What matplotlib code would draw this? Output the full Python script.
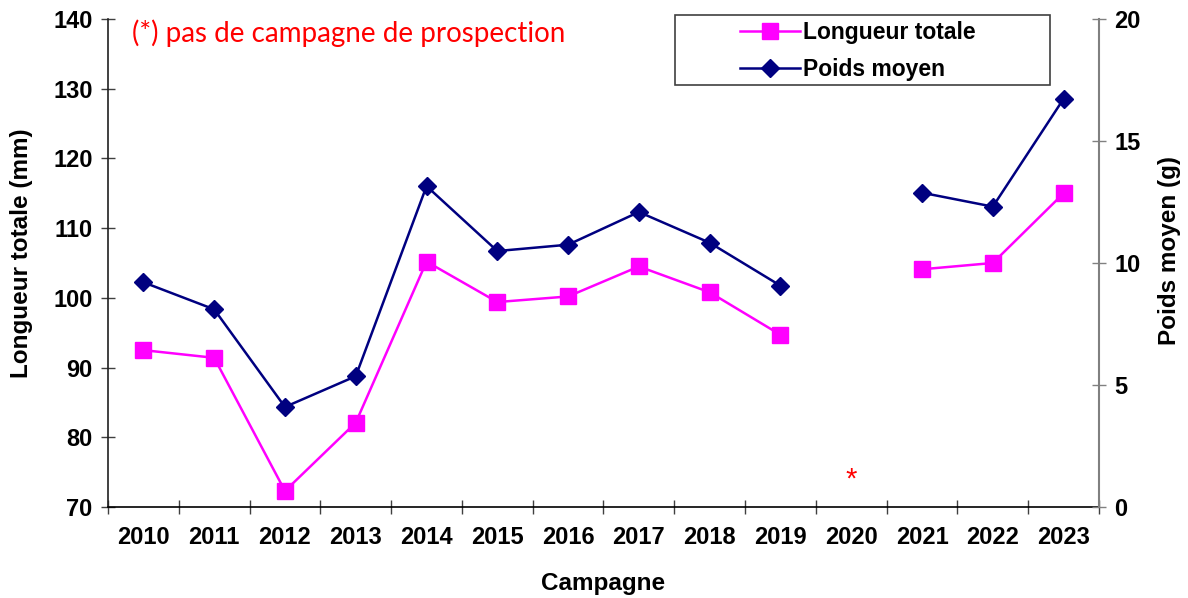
import numpy as np
import matplotlib
matplotlib.use("Agg")
import matplotlib.pyplot as plt
from matplotlib.patches import Rectangle

years = ["2010", "2011", "2012", "2013", "2014", "2015", "2016", "2017",
         "2018", "2019", "2020", "2021", "2022", "2023"]
longueur = [92.5, 91.4, 72.3, 82.1, 105.2, 99.4, 100.2, 104.5, 100.8, 94.7,
            np.nan, 104.1, 105.0, 115.0]
poids = [9.21, 8.10, 4.10, 5.36, 13.15, 10.49, 10.75, 12.09, 10.83, 9.07,
         np.nan, 12.88, 12.31, 16.73]

plt.rcParams['font.family'] = ['Liberation Sans', 'DejaVu Sans']

fig = plt.figure(figsize=(11.88, 5.98), dpi=100)
ax = fig.add_axes([108/1188, 91/598, 991/1188, 488/598])
ax2 = ax.twinx()

x = np.arange(len(years))
l1, = ax.plot(x, longueur, color='#FF00FF', lw=1.8, marker='s', ms=11,
              label='Longueur totale', zorder=3)
l2, = ax2.plot(x, poids, color='#000080', lw=1.8, marker='D', ms=9,
               label='Poids moyen', zorder=3)

ax.set_xlim(-0.5, len(years) - 0.5)
ax.set_ylim(70, 140)
ax2.set_ylim(0, 20)
ax.set_yticks(np.arange(70, 141, 10))
ax2.set_yticks(np.arange(0, 21, 5))

ax.set_xticks(x)
ax.set_xticklabels(years)
ax.set_xticks(np.arange(-0.5, len(years), 1), minor=True)
ax.tick_params(axis='x', which='major', length=0, pad=14, labelsize=17)
ax.tick_params(axis='x', which='minor', direction='inout', length=10, width=1, color='#404040')
ax.tick_params(axis='y', direction='inout', length=10, width=1, color='#404040',
               labelsize=17, pad=6)
ax2.tick_params(axis='y', direction='inout', length=10, width=1, color='#808080',
                labelsize=17, pad=6)
for lab in ax.get_xticklabels() + ax.get_yticklabels() + ax2.get_yticklabels():
    lab.set_fontweight('bold')

for a in (ax, ax2):
    a.spines['top'].set_visible(False)
ax.spines['right'].set_visible(False)
ax2.spines['left'].set_visible(False)
ax2.spines['bottom'].set_visible(False)
ax2.spines['right'].set_color('#808080')
ax2.spines['right'].set_linewidth(1.5)
ax.spines['left'].set_color('#202020')
ax.spines['bottom'].set_color('#000000')
ax.spines['left'].set_linewidth(1.2)
ax.spines['bottom'].set_linewidth(1.2)

ax.set_xlabel('Campagne', fontsize=17.5, fontweight='bold', labelpad=16)
ax.set_ylabel('Longueur totale (mm)', fontsize=17.5, fontweight='bold')
ax2.set_ylabel('Poids moyen (g)', fontsize=17.5, fontweight='bold')
ax.yaxis.set_label_coords(-0.0757, 0.52)
ax2.yaxis.set_label_coords(1.0595, 0.525)

ax.text(10, 74.0, '*', color='red', fontsize=21, ha='center', va='center')
ax.text(0.0245, 0.97, '(*) pas de campagne de prospection', transform=ax.transAxes,
        color='red', fontsize=20, ha='left', va='center', family=['Lato', 'DejaVu Sans'])

# legend frame as a separate rectangle (content sits right inside it)
frame = Rectangle((0.572, 0.865), 0.379, 0.143, transform=ax2.transAxes,
                  fill=True, facecolor='white', edgecolor='#404040', lw=1.2,
                  clip_on=False, zorder=4)
ax2.add_patch(frame)
leg = ax2.legend(handles=[l1, l2], loc='upper left',
                 bbox_to_anchor=(0.632, 1.008), frameon=False, fontsize=16.5,
                 handlelength=2.6, borderpad=0.25, labelspacing=0.6,
                 handletextpad=0.15, borderaxespad=0)
leg.set_zorder(5)
for t in leg.get_texts():
    t.set_fontweight('bold')

fig.savefig('out.png', dpi=100)
